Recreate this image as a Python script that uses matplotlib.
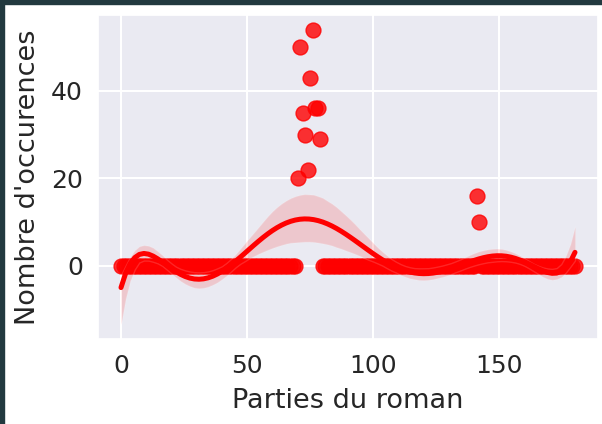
import matplotlib
matplotlib.use("Agg")
import matplotlib.pyplot as plt
import numpy as np
import pandas as pd
import seaborn as sns
from matplotlib.patches import Rectangle

# parts of the novel, 0..180
parties = np.arange(181)
occurences = np.zeros(181)
# non-zero counts
pics_x = [70, 71, 72, 73, 74, 75, 76, 77, 78, 79, 141, 142]
pics_y = [20, 50, 35, 30, 22, 43, 54, 36, 36, 29, 16, 10]
occurences[pics_x] = pics_y

df = pd.DataFrame({"partie": parties, "occ": occurences})

sns.set_theme(style="darkgrid", rc={"grid.linewidth": 1.5})

W, H = 602, 424
fig = plt.figure(figsize=(W / 100, H / 100), dpi=100)
ax = fig.add_axes([98.3 / W, (H - 339) / H, (597.7 - 98.3) / W, (339 - 15) / H])

sns.regplot(data=df, x="partie", y="occ", order=7, color="red", ax=ax, seed=0,
            scatter_kws={"s": 115, "alpha": 0.8},
            line_kws={"lw": 3.6})

ax.set_xlabel("Parties du roman", fontsize=19.5, labelpad=7)
ax.set_ylabel("Nombre d'occurences", fontsize=19.5, labelpad=7)
ax.tick_params(labelsize=18, pad=5)
ax.set_xticks([0, 50, 100, 150])
ax.set_yticks([0, 20, 40])

# dark strip of the screenshot at top and left
fig.patches.append(Rectangle((0, 1 - 4 / H), 1, 4 / H, transform=fig.transFigure,
                             color="#22393f", zorder=10))
fig.patches.append(Rectangle((0, 0), 4 / W, 1, transform=fig.transFigure,
                             color="#22393f", zorder=10))

fig.savefig("out.png", dpi=100)
